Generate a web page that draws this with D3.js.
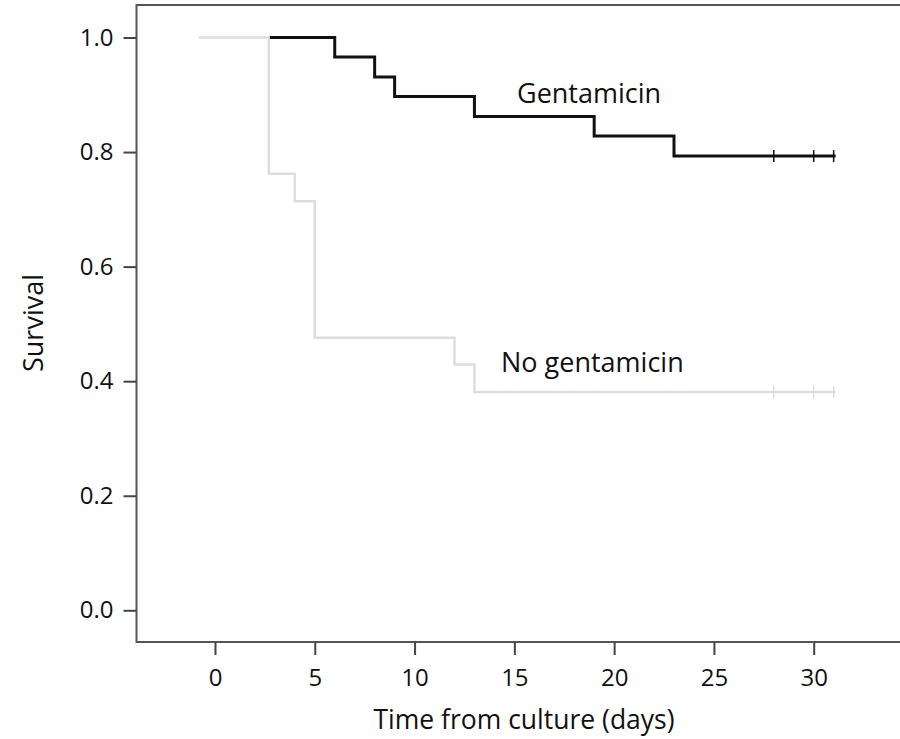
<!DOCTYPE html>
<html>
<meta charset="utf-8">
<head>
<style>
body { margin: 0; background: #fff; }
svg { display: block; font-family: "Open Sans", sans-serif; }
.axis text { font-family: "Open Sans", sans-serif; font-size: 24px; fill: #111; }
.axis line { stroke: #444; stroke-width: 2; }
</style>
<script src="https://d3js.org/d3.v7.min.js"></script>
</head>
<body>
<script type="text/javascript">
// Kaplan-Meier steps
var gentTime = [2.75, 6, 8, 9, 13, 19, 23, 31.1];
var gentSurv = [1, 0.966, 0.931, 0.897, 0.862, 0.828, 0.793, 0.793];
var gentCensor = [28, 30, 31];

var noGentTime = [-0.8, 2.7, 4, 5, 12, 13, 31.1];
var noGentSurv = [1, 0.762, 0.714, 0.476, 0.429, 0.381, 0.381];
var noGentCensor = [28, 30, 31];

var xTicks = [0, 5, 10, 15, 20, 25, 30];
var yTicks = [0, 0.2, 0.4, 0.6, 0.8, 1.0];

var width = 900, height = 739;
var frame = {left: 136.5, top: 5, bottom: 642};

var x = d3.scaleLinear().domain([0, 30]).range([215, 813.7]);
var y = d3.scaleLinear().domain([0, 1]).range([610.3, 37.5]);

var svg = d3.select("body").append("svg")
    .attr("width", width)
    .attr("height", height);

// box (right side runs off the picture)
svg.append("path")
    .attr("d", "M" + (width + 5) + "," + frame.top + "H" + frame.left + "V" + frame.bottom + "H" + (width + 5))
    .attr("fill", "none")
    .attr("stroke", "#555")
    .attr("stroke-width", 2);

var yAxis = d3.axisLeft(y).tickValues(yTicks).tickFormat(d3.format(".1f"))
    .tickSize(13).tickSizeOuter(0).tickPadding(10);
var xAxis = d3.axisBottom(x).tickValues(xTicks)
    .tickSize(13).tickSizeOuter(0).tickPadding(14);

var gy = svg.append("g")
    .attr("class", "axis")
    .attr("transform", "translate(" + frame.left + ",0)")
    .call(yAxis);
gy.select(".domain").remove();

var gx = svg.append("g")
    .attr("class", "axis")
    .attr("transform", "translate(0," + frame.bottom + ")")
    .call(xAxis);
gx.select(".domain").remove();

var step = d3.line()
    .x(function(d) { return x(d[0]); })
    .y(function(d) { return y(d[1]); })
    .curve(d3.curveStepAfter);

function drawCurve(times, surv, censor, colour, w) {
    var pts = times.map(function(t, i) { return [t, surv[i]]; });
    svg.append("path")
        .datum(pts)
        .attr("d", step)
        .attr("fill", "none")
        .attr("stroke", colour)
        .attr("stroke-width", w);
    var last = surv[surv.length - 1];
    svg.selectAll(null)
        .data(censor)
        .enter().append("line")
        .attr("x1", function(d) { return x(d); })
        .attr("x2", function(d) { return x(d); })
        .attr("y1", y(last) - 6)
        .attr("y2", y(last) + 6)
        .attr("stroke", colour)
        .attr("stroke-width", 1.5);
}

drawCurve(noGentTime, noGentSurv, noGentCensor, "#dcdde0", 2.5);
drawCurve(gentTime, gentSurv, gentCensor, "#111", 3);

svg.append("text")
    .attr("x", 517)
    .attr("y", 103)
    .attr("font-size", 27)
    .attr("fill", "#111")
    .text("Gentamicin");

svg.append("text")
    .attr("x", 501)
    .attr("y", 372)
    .attr("font-size", 27)
    .attr("fill", "#111")
    .text("No gentamicin");

svg.append("text")
    .attr("text-anchor", "middle")
    .attr("x", 524)
    .attr("y", 729)
    .attr("font-size", 26.5)
    .attr("fill", "#111")
    .text("Time from culture (days)");

svg.append("text")
    .attr("text-anchor", "middle")
    .attr("transform", "translate(43,323) rotate(-90)")
    .attr("font-size", 27)
    .attr("fill", "#111")
    .text("Survival");
</script>
</body>
</html>
